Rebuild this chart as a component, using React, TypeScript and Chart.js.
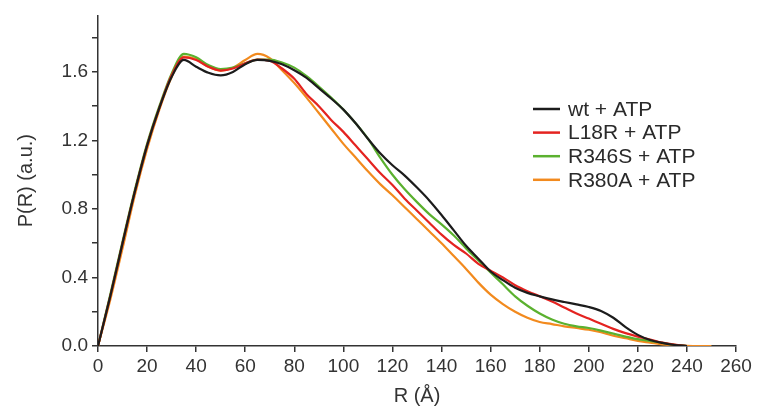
import React, { useEffect, useRef } from "react";
import { Chart, registerables } from "chart.js";

Chart.register(...registerables);

// Distance grid (Å)
const R = [
  0, 5, 10, 15, 20, 25, 30, 35, 40, 45, 50, 55, 60, 65, 70, 75, 80, 85, 90, 95,
  100, 105, 110, 115, 120, 125, 130, 135, 140, 145, 150, 155, 160, 165, 170, 175,
  180, 185, 190, 195, 200, 205, 210, 215, 220, 225, 230, 235, 240, 245, 250,
];

// P(R) distributions (a.u.)
const wtATP = [
  0, 0.29, 0.6, 0.9, 1.17, 1.39, 1.57, 1.67, 1.63, 1.595, 1.58, 1.6, 1.645, 1.67, 1.665, 1.645, 1.61, 1.565, 1.505, 1.445,
  1.38, 1.3, 1.21, 1.125, 1.055, 0.995, 0.925, 0.85, 0.765, 0.675, 0.585, 0.51, 0.435, 0.385, 0.34, 0.31,
  0.29, 0.272, 0.257, 0.243, 0.228, 0.205, 0.165, 0.11, 0.065, 0.035, 0.018, 0.006, 0, null, null,
];
const l18rATP = [
  0, 0.29, 0.6, 0.9, 1.17, 1.39, 1.58, 1.685, 1.67, 1.63, 1.608, 1.62, 1.65, 1.672, 1.665, 1.62, 1.56, 1.47, 1.4, 1.32,
  1.25, 1.17, 1.09, 1.01, 0.94, 0.86, 0.79, 0.72, 0.65, 0.59, 0.54, 0.48, 0.44, 0.4, 0.355, 0.32,
  0.29, 0.26, 0.225, 0.19, 0.16, 0.13, 0.1, 0.075, 0.055, 0.038, 0.02, 0.008, 0, null, null,
];
const r346sATP = [
  0, 0.3, 0.61, 0.91, 1.18, 1.4, 1.59, 1.705, 1.685, 1.64, 1.617, 1.625, 1.65, 1.672, 1.672, 1.655, 1.625, 1.575, 1.515, 1.45,
  1.38, 1.3, 1.21, 1.1, 1.0, 0.915, 0.84, 0.77, 0.71, 0.645, 0.57, 0.5, 0.43, 0.36, 0.29, 0.235,
  0.19, 0.155, 0.13, 0.115, 0.105, 0.09, 0.072, 0.055, 0.04, 0.03, 0.018, 0.007, 0, null, null,
];
const r380aATP = [
  0, 0.27, 0.57, 0.88, 1.15, 1.38, 1.57, 1.69, 1.675, 1.63, 1.608, 1.625, 1.67, 1.705, 1.68, 1.61, 1.535, 1.45, 1.36, 1.27,
  1.18, 1.1, 1.02, 0.945, 0.88, 0.81, 0.74, 0.67, 0.6, 0.525, 0.45, 0.37, 0.3, 0.245, 0.2, 0.165,
  0.14, 0.128, 0.115, 0.105, 0.095, 0.08, 0.06, 0.045, 0.03, 0.02, 0.01, 0.004, 0.001, 0, 0,
];

const seriesNames = ["wt + ATP", "L18R + ATP", "R346S + ATP", "R380A + ATP"];
const seriesData = [wtATP, l18rATP, r346sATP, r380aATP];
const seriesColors = ["#1c1c1c", "#e42320", "#5bb12f", "#f28a1e"];

const xTicks = { min: 0, max: 260, step: 20 };
const yTicks = { min: 0, max: 1.93, step: 0.2 };

const FONT = "'Liberation Sans', Arial, sans-serif";
const INK = "#333333";

// Legend drawn inside the plot area, right of centre
const insideLegend = {
  id: "insideLegend",
  afterDraw(chart: Chart) {
    const { ctx } = chart;
    const x0 = 533;
    const y0 = 109;
    const rowH = 23.6;
    ctx.save();
    ctx.font = `21px ${FONT}`;
    ctx.textBaseline = "middle";
    ctx.textAlign = "left";
    chart.data.datasets.forEach((ds: any, i: number) => {
      const y = y0 + i * rowH;
      ctx.strokeStyle = ds.borderColor;
      ctx.lineWidth = 2.5;
      ctx.beginPath();
      ctx.moveTo(x0, y);
      ctx.lineTo(x0 + 27, y);
      ctx.stroke();
      ctx.fillStyle = "#2a2a2a";
      ctx.fillText(ds.label, x0 + 35, y + 1);
    });
    ctx.restore();
  },
};

export default function App() {
  const canvasRef = useRef<HTMLCanvasElement | null>(null);

  useEffect(() => {
    const canvas = canvasRef.current;
    if (!canvas) return;
    const chart = new Chart(canvas, {
      type: "line",
      data: {
        datasets: seriesData.map((vals, i) => ({
          label: seriesNames[i],
          data: R.map((r, j) => ({ x: r, y: vals[j] })).filter((p) => p.y !== null),
          borderColor: seriesColors[i],
          backgroundColor: seriesColors[i],
          borderWidth: 2.2,
          pointRadius: 0,
          cubicInterpolationMode: "monotone",
          fill: false,
        })),
      },
      options: {
        animation: false,
        responsive: false,
        maintainAspectRatio: false,
        layout: { padding: { top: 12, right: 25, left: 0, bottom: 2 } },
        plugins: {
          legend: { display: false },
          tooltip: { enabled: false },
        },
        scales: {
          x: {
            type: "linear",
            min: xTicks.min,
            max: xTicks.max,
            ticks: {
              stepSize: xTicks.step,
              color: INK,
              font: { family: FONT, size: 19 },
              padding: 3,
              maxRotation: 0,
            },
            grid: {
              drawOnChartArea: false,
              drawTicks: true,
              tickLength: 6,
              color: INK,
              lineWidth: 1.5,
            },
            border: { display: true, color: INK, width: 1.5 },
            title: {
              display: true,
              text: "R (Å)",
              color: INK,
              font: { family: FONT, size: 20 },
              padding: { top: 0, bottom: 0 },
            },
            afterFit: (scale: any) => {
              scale.height = 62;
            },
          },
          y: {
            type: "linear",
            min: yTicks.min,
            max: yTicks.max,
            ticks: {
              stepSize: yTicks.step,
              includeBounds: false,
              color: INK,
              font: { family: FONT, size: 19 },
              padding: 4,
              callback: (v: any) => {
                const n = Math.round(Number(v) * 10);
                return n % 4 === 0 ? (n / 10).toFixed(1) : "";
              },
            },
            grid: {
              drawOnChartArea: false,
              drawTicks: true,
              tickLength: 6,
              color: INK,
              lineWidth: 1.5,
            },
            border: { display: true, color: INK, width: 1.5 },
            title: {
              display: true,
              text: "P(R) (a.u.)",
              color: INK,
              font: { family: FONT, size: 20 },
              padding: { top: 14, bottom: 0 },
            },
            afterFit: (scale: any) => {
              scale.width = 98;
            },
          },
        },
      },
      plugins: [insideLegend],
    });
    return () => chart.destroy();
  }, []);

  return (
    <div style={{ position: "fixed", left: 0, top: 0, width: 761, height: 410, background: "#ffffff" }}>
      <canvas ref={canvasRef} width={761} height={410} style={{ width: 761, height: 410 }} />
    </div>
  );
}
